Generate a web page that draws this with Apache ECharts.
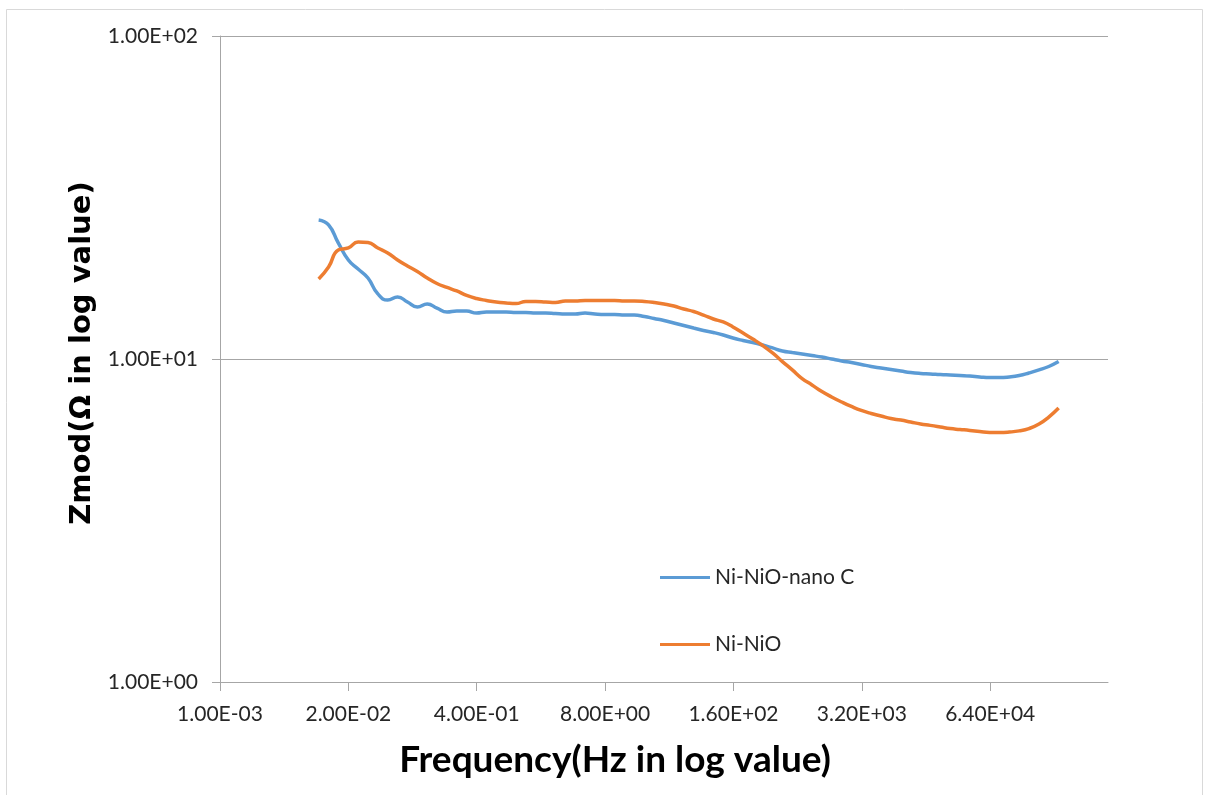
<!DOCTYPE html>
<html>
<head>
<meta charset="utf-8">
<title>Zmod vs Frequency</title>
<script src="https://cdn.jsdelivr.net/npm/echarts@6/dist/echarts.min.js"></script>
<style>
  html, body { margin: 0; padding: 0; background: #ffffff; }
  #chart { width: 1209px; height: 795px; }
</style>
</head>
<body>
<div id="chart"></div>
<script>
// Measurement frequencies (Hz), 10 points per decade
const frequencyHz = [
  0.01, 0.0126, 0.0158, 0.02, 0.0251, 0.0316, 0.0398, 0.0501, 0.0631, 0.0794,
  0.1, 0.126, 0.158, 0.2, 0.251, 0.316, 0.398, 0.501, 0.631, 0.794,
  1, 1.26, 1.58, 2, 2.51, 3.16, 3.98, 5.01, 6.31, 7.94,
  10, 12.6, 15.8, 20, 25.1, 31.6, 39.8, 50.1, 63.1, 79.4,
  100, 126, 158, 200, 251, 316, 398, 501, 631, 794,
  1000, 1260, 1580, 2000, 2510, 3160, 3980, 5010, 6310, 7940,
  10000, 12600, 15800, 20000, 25100, 31600, 39800, 50100, 63100, 79400,
  100000, 126000, 158000, 200000, 251000, 316000
];

// |Z| (ohm) for Ni-NiO-nano C
const zmodNanoC = [
  26.93, 26.00, 22.87, 20.26, 18.99, 17.81, 15.90, 15.23, 15.56, 15.01,
  14.49, 14.80, 14.38, 13.98, 14.08, 14.08, 13.88, 13.98, 13.98, 13.98,
  13.93, 13.93, 13.88, 13.88, 13.83, 13.78, 13.78, 13.88, 13.78, 13.73,
  13.73, 13.68, 13.68, 13.54, 13.35, 13.16, 12.93, 12.70, 12.47, 12.25,
  12.08, 11.87, 11.61, 11.41, 11.25, 11.05, 10.82, 10.59, 10.47, 10.36,
  10.25, 10.14, 10.00, 9.86, 9.75, 9.62, 9.48, 9.38, 9.28, 9.18,
  9.08, 9.02, 8.99, 8.95, 8.92, 8.89, 8.86, 8.80, 8.76, 8.76,
  8.80, 8.89, 9.05, 9.25, 9.48, 9.82
];

// |Z| (ohm) for Ni-NiO
const zmodNiNiO = [
  17.69, 19.27, 21.76, 22.07, 23.03, 22.95, 22.07, 21.29, 20.26, 19.41,
  18.66, 17.81, 17.13, 16.65, 16.24, 15.73, 15.39, 15.18, 15.01, 14.91,
  14.85, 15.07, 15.07, 15.01, 14.96, 15.12, 15.12, 15.18, 15.18, 15.18,
  15.18, 15.12, 15.12, 15.07, 14.96, 14.80, 14.59, 14.28, 14.03, 13.68,
  13.30, 13.02, 12.57, 12.03, 11.53, 11.01, 10.44, 9.82, 9.25, 8.70,
  8.31, 7.93, 7.63, 7.36, 7.13, 6.93, 6.78, 6.66, 6.54, 6.47,
  6.38, 6.29, 6.23, 6.16, 6.09, 6.05, 6.01, 5.96, 5.92, 5.92,
  5.94, 5.99, 6.09, 6.29, 6.61, 7.05
];

const seriesNames = ['Ni-NiO-nano C', 'Ni-NiO'];
const seriesColors = ['#5b9bd5', '#ed7d31'];

// Axis range in Hz; the x axis is base-20 logarithmic
const xMinHz = 0.001;
const xMaxHz = 1e6;
const yMin = 1;
const yMax = 100;

// The x axis works in mHz so that its base-20 ticks fall on
// 1 mHz, 20 mHz, 400 mHz, ... ; labels are shown back in Hz.
const MHZ_PER_HZ = 1000;

function sciLabel(v) {
  const s = Number(v).toExponential(2);
  const parts = s.split('e');
  const exp = parseInt(parts[1], 10);
  return parts[0] + 'E' + (exp < 0 ? '-' : '+') + String(Math.abs(exp)).padStart(2, '0');
}

function toPoints(values) {
  return frequencyHz.map(function (f, i) { return [f * MHZ_PER_HZ, values[i]]; });
}

const gridColor = '#a6a6a6';
const labelColor = '#262626';

const chart = echarts.init(document.getElementById('chart'), null, { renderer: 'canvas' });

chart.setOption({
  animation: false,
  backgroundColor: '#ffffff',
  graphic: [{
    type: 'rect',
    left: 4, top: 7,
    shape: { width: 1196, height: 800 },
    style: { fill: 'none', stroke: '#d9d9d9', lineWidth: 1 },
    silent: true
  }],
  grid: { left: 220, right: 101, top: 36, bottom: 113 },
  legend: {
    orient: 'vertical',
    left: 655,
    top: 562,
    itemGap: 46,
    itemWidth: 50,
    itemHeight: 3,
    icon: 'rect',
    textStyle: { fontFamily: 'Lato', fontSize: 21, color: labelColor },
    data: seriesNames
  },
  xAxis: {
    type: 'log',
    logBase: 20,
    min: xMinHz * MHZ_PER_HZ,
    max: xMaxHz * MHZ_PER_HZ,
    splitNumber: 7,
    name: 'Frequency(Hz in log value)',
    nameLocation: 'middle',
    nameGap: 60,
    nameTextStyle: {
      fontFamily: 'Lato', fontWeight: 'bold', fontSize: 37, color: '#000000',
      padding: [0, 98, 0, 0]
    },
    axisLine: { show: true, lineStyle: { color: gridColor, width: 1 } },
    axisTick: { show: true, inside: false, length: 9, lineStyle: { color: gridColor } },
    splitLine: { show: false },
    minorTick: { show: false },
    axisLabel: {
      margin: 22,
      showMaxLabel: false,
      fontFamily: 'Lato',
      fontSize: 21,
      color: labelColor,
      formatter: function (v) { return sciLabel(v / MHZ_PER_HZ); }
    }
  },
  yAxis: {
    type: 'log',
    logBase: 10,
    min: yMin,
    max: yMax,
    name: 'Zmod(Ω in log value)',
    nameLocation: 'middle',
    nameRotate: 90,
    nameGap: 122,
    nameTextStyle: {
      fontFamily: 'DejaVu Sans', fontWeight: 'bold', fontSize: 29, color: '#000000',
      padding: [0, 0, 0, 12]
    },
    axisLine: { show: true, lineStyle: { color: gridColor, width: 1 } },
    axisTick: { show: true, inside: false, length: 8, lineStyle: { color: gridColor } },
    splitLine: { show: true, lineStyle: { color: gridColor, width: 1 } },
    axisLabel: {
      margin: 22,
      fontFamily: 'Lato',
      fontSize: 21,
      color: labelColor,
      formatter: function (v) { return sciLabel(v); }
    }
  },
  series: [
    {
      name: seriesNames[0],
      type: 'line',
      data: toPoints(zmodNanoC),
      symbol: 'none',
      smooth: 0.5,
      lineStyle: { color: seriesColors[0], width: 3.5 },
      itemStyle: { color: seriesColors[0] }
    },
    {
      name: seriesNames[1],
      type: 'line',
      data: toPoints(zmodNiNiO),
      symbol: 'none',
      smooth: 0.5,
      lineStyle: { color: seriesColors[1], width: 3.5 },
      itemStyle: { color: seriesColors[1] }
    }
  ]
});
</script>
</body>
</html>
